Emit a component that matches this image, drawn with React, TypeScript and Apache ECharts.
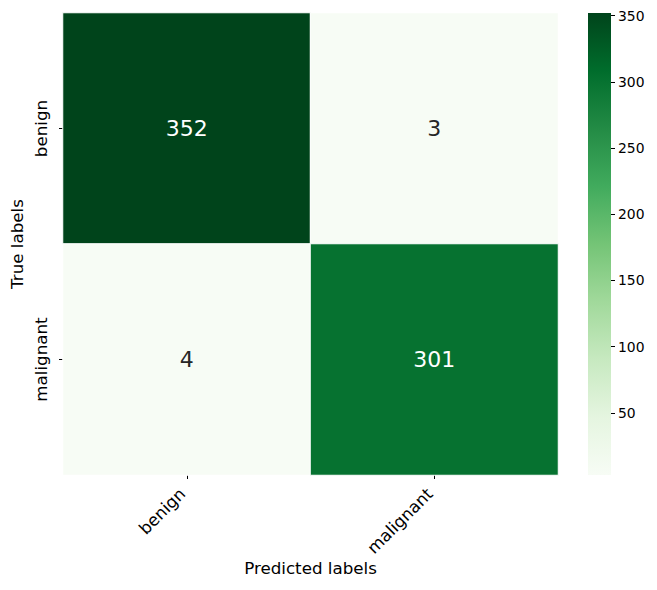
import React, { useEffect, useRef } from "react";
import * as echarts from "echarts";

const predictedLabels = ["benign", "malignant"];
const trueLabels = ["benign", "malignant"];
// rows: true label, cols: predicted label
const matrixValues = [
  [352, 3],
  [4, 301],
];
const colorbarTicks = [50, 100, 150, 200, 250, 300, 350];
const greens = [
  "#f7fcf5",
  "#e5f5e0",
  "#c7e9c0",
  "#a1d99b",
  "#74c476",
  "#41ab5d",
  "#238b45",
  "#006d2c",
  "#00441b",
];

const FONT = "DejaVu Sans";

export default function App() {
  const ref = useRef<HTMLDivElement>(null);
  useEffect(() => {
    document.body.style.margin = "0";
    if (!ref.current) return;
    const chart = echarts.init(ref.current, undefined, { renderer: "svg" });
    const flat = matrixValues.flat();
    const vmin = Math.min(...flat);
    const vmax = Math.max(...flat);
    const data: any[] = [];
    matrixValues.forEach((row, r) =>
      row.forEach((v, c) => {
        const frac = (v - vmin) / (vmax - vmin);
        data.push({
          value: [c, r, v],
          label: { color: frac > 0.5 ? "#ffffff" : "#262626" },
        });
      })
    );
    const stops = greens
      .map((c, i) => ({ offset: 1 - i / (greens.length - 1), color: c }))
      .reverse();

    chart.setOption({
      animation: false,
      textStyle: { fontFamily: FONT },
      grid: [
        { left: 62, top: 13, width: 496, height: 462 },
        { left: 588, top: 13, width: 23, height: 462 },
      ],
      xAxis: [
        {
          type: "category",
          gridIndex: 0,
          data: predictedLabels,
          axisLine: { show: false },
          axisTick: { show: true, alignWithLabel: true, length: 4, lineStyle: { color: "#000" } },
          splitLine: { show: false },
          axisLabel: {
            rotate: 45,
            fontSize: 16.7,
            color: "#000",
            fontFamily: FONT,
            margin: 12,
            padding: [0, 6, 0, 0],
            interval: 0,
          },
          name: "Predicted labels",
          nameLocation: "middle",
          nameGap: 84,
          nameMoveOverlap: false,
          nameTextStyle: { fontSize: 16.7, color: "#000", fontFamily: FONT },
        },
        {
          type: "category",
          gridIndex: 1,
          data: [""],
          show: false,
        },
      ],
      yAxis: [
        {
          type: "category",
          gridIndex: 0,
          data: trueLabels,
          inverse: true,
          axisLine: { show: false },
          axisTick: { show: true, alignWithLabel: true, length: 4, lineStyle: { color: "#000" } },
          splitLine: { show: false },
          axisLabel: {
            rotate: 90,
            fontSize: 16.7,
            color: "#000",
            fontFamily: FONT,
            margin: 14,
            interval: 0,
          },
          name: "True labels",
          nameLocation: "middle",
          nameGap: 38,
          nameMoveOverlap: false,
          nameTextStyle: { fontSize: 16.7, color: "#000", fontFamily: FONT },
        },
        {
          type: "value",
          gridIndex: 1,
          position: "right",
          min: vmin,
          max: vmax,
          axisLine: { show: false },
          splitLine: { show: false },
          axisTick: {
            show: true,
            length: 4,
            customValues: colorbarTicks,
            lineStyle: { color: "#000" },
          },
          axisLabel: {
            customValues: colorbarTicks,
            fontSize: 13.9,
            color: "#000",
            fontFamily: FONT,
            margin: 7,
          },
        },
      ],
      visualMap: {
        type: "continuous",
        show: false,
        min: vmin,
        max: vmax,
        dimension: 2,
        seriesIndex: 0,
        inRange: { color: greens },
      },
      series: [
        {
          type: "heatmap",
          xAxisIndex: 0,
          yAxisIndex: 0,
          data,
          itemStyle: { borderColor: "#ffffff", borderWidth: 1 },
          label: {
            show: true,
            fontSize: 22,
            fontFamily: FONT,
            formatter: (p: any) => String(p.value[2]),
          },
          emphasis: { disabled: true },
        },
        {
          type: "custom",
          xAxisIndex: 1,
          yAxisIndex: 1,
          data: [[0, vmax]],
          renderItem: (params: any, api: any) => {
            const top = api.coord([0, vmax]);
            const bottom = api.coord([0, vmin]);
            const cs = params.coordSys;
            return {
              type: "rect",
              shape: {
                x: cs.x,
                y: top[1],
                width: cs.width,
                height: bottom[1] - top[1],
              },
              style: {
                fill: new echarts.graphic.LinearGradient(0, 0, 0, 1, stops),
              },
            };
          },
        },
      ],
    });
    return () => chart.dispose();
  }, []);
  return <div ref={ref} style={{ width: 657, height: 590 }} />;
}
